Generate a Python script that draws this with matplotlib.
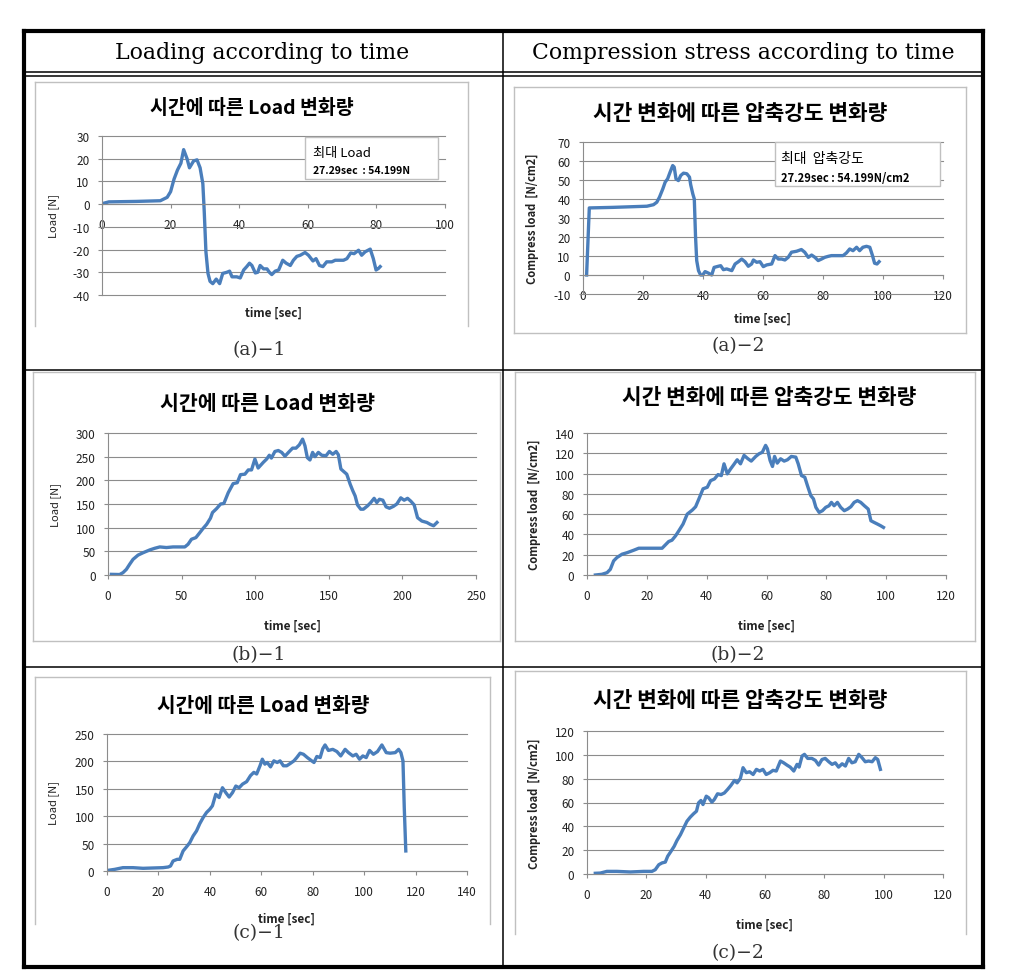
import matplotlib
matplotlib.use("Agg")
import matplotlib.pyplot as plt
from matplotlib.lines import Line2D
from matplotlib.patches import Rectangle

plt.rcParams["font.family"] = ["Noto Sans CJK KR", "DejaVu Sans"]
plt.rcParams["axes.unicode_minus"] = False

W, H = 1029, 979

# ---- data ----
a1_t = [0, 2, 10, 17, 19, 20, 21, 22, 23, 23.8, 24.8, 25.5, 26.7, 27.7, 28.6, 29.4, 29.8,
        30.3, 30.9, 31.5, 32.3, 33.3, 34.3, 35.2, 36.4, 37.2, 37.9, 39.3, 40.3, 41.3, 42.2,
        43.0, 43.7, 44.7, 45.4, 46.1, 47.1, 48.1, 48.8, 49.5, 50.5, 51.5, 52.7, 53.7, 54.9,
        55.8, 56.8, 57.8, 59.2, 60.2, 61.5, 62.4, 63.4, 64.4, 65.5, 67.0, 68.0, 68.9, 70.4,
        71.4, 72.5, 73.5, 74.8, 75.7, 76.7, 78.2, 79.1, 79.9, 80.6, 81.1]
a1_load = [0.2, 1, 1.2, 1.5, 3, 5.5, 11, 15, 18, 24, 20, 16, 19, 19.5, 16, 9, -3,
           -21, -30.5, -34, -35, -33, -35, -30.5, -30, -29.5, -32, -32, -32.5, -29, -27.5,
           -26, -27, -30.3, -30, -27, -28.5, -28.5, -30, -31, -29.5, -29, -24.7, -26, -27,
           -24.7, -23, -22.5, -21.3, -22.5, -25, -24, -27, -27.5, -25.4, -25.4, -24.7, -24.7, -24.7,
           -24, -21.5, -21.8, -20.3, -22.5, -21, -19.8, -24, -29, -28.3, -27.5]

a2_t = [1.2, 2.1, 10, 21.3, 23.5, 24.6, 25.5, 26.6, 27.4, 28.2, 29.0, 29.9, 30.4, 31.0, 31.8,
        32.6, 33.5, 34.6, 35.5, 35.9, 36.6, 37.1, 37.5, 37.9, 38.5, 39.2, 39.9, 40.7, 41.8,
        42.9, 43.7, 45.1, 45.9, 46.8, 47.9, 49.6, 50.7, 51.8, 52.9, 54.0, 55.1, 56.2, 56.8,
        57.9, 59.0, 60.1, 61.2, 62.9, 64.0, 65.1, 66.2, 67.3, 68.4, 69.5, 71.2, 72.8, 73.9,
        75.1, 76.2, 77.3, 78.4, 79.5, 80.6, 81.7, 82.8, 85.0, 86.7, 87.8, 88.9, 90.0, 91.2,
        92.2, 93.3, 94.5, 95.6, 96.5, 97.2, 98.0, 98.7]
a2_stress = [0, 35.3, 35.6, 36.2, 37, 38.3, 41, 45.3, 48.9, 50.6, 54, 57.6, 56.8, 50.6, 49.7,
             52.4, 53.6, 53.3, 51.5, 47.5, 42.7, 40, 20.7, 7.6, 2.3, 0, 0, 1.8, 1,
             0, 4, 4.6, 4.9, 2.8, 3.2, 2.3, 5.8, 7, 8.4, 7, 4.6, 5.8, 7.9,
             6.7, 7, 4.4, 5.3, 5.8, 10.2, 8.4, 8.4, 7.9, 9.3, 12, 12.5, 13.4, 12,
             9.3, 10.5, 9.3, 7.6, 8.4, 9.3, 9.8, 10.2, 10.2, 10.2, 11.6, 13.7, 12.8, 14.6,
             12.8, 14.6, 15.1, 14.6, 10.2, 6.2, 5.8, 7]

b1_t = [2.3, 7.9, 10.2, 12.5, 14.7, 17.0, 20.4, 23.8, 28.4, 31.8, 35.2, 39.7, 44.2, 52.2,
        54.4, 56.7, 59.7, 62.4, 64.7, 67.0, 69.6, 71.0, 73.7, 76.5, 78.7, 81.7, 85.0, 87.8,
        90.0, 93.0, 95.3, 97.5, 99.8, 102.0, 105.5, 107.8, 109.6, 111.0, 113.4, 115.7, 118.0,
        120.2, 123.2, 125.4, 127.7, 130.0, 132.2, 133.8, 135.4, 137.2, 139.0, 140.6, 142.9,
        145.2, 148.1, 150.4, 152.7, 155.0, 156.5, 158.2, 160.0, 162.2, 164.5, 166.3, 167.9,
        169.5, 171.7, 173.5, 176.3, 178.5, 180.8, 182.6, 184.4, 186.7, 188.9, 191.2, 193.9,
        196.2, 198.9, 201.2, 203.5, 205.7, 208.0, 210.3, 213.2, 216.6, 218.9, 221.2, 223.5]
b1_load = [1.4, 1, 5, 12, 22.6, 33, 42, 47, 53, 56.5, 59.3, 58, 59.3, 59.3,
           65, 75.5, 79, 89.6, 98.8, 107, 120, 132, 140, 150, 151, 174, 193, 195,
           212, 213, 222, 222, 245, 226, 238, 245, 253, 247, 261, 263, 259,
           251, 261, 268, 268, 275, 287, 273, 248, 243, 259, 250, 259,
           253, 252, 261, 255, 261, 254, 224, 219, 213, 192, 178, 167,
           148, 139, 139, 146, 153, 162, 153, 160, 158, 144, 141, 145,
           150, 163, 158, 162, 156, 148, 121, 114, 111, 107, 104, 111]

b2_t = [2.8, 5.0, 6.7, 7.8, 8.9, 10.0, 11.7, 13.4, 15.6, 17.3, 21.2, 25.1, 26.2, 27.3, 28.4,
        29.6, 30.7, 32.1, 33.5, 35.2, 36.3, 37.4, 38.8, 40.2, 41.3, 42.6, 43.8, 44.9, 45.8,
        46.9, 48.0, 49.1, 50.2, 51.3, 52.5, 53.8, 54.9, 56.4, 57.5, 58.6, 59.7, 60.3, 61.2,
        62.0, 62.7, 63.6, 64.7, 65.9, 67.0, 68.3, 69.8, 70.6, 71.7, 72.8, 73.7, 74.8, 75.7,
        76.5, 77.6, 78.7, 79.8, 80.9, 81.7, 82.6, 83.7, 84.8, 86.0, 87.1, 88.2, 89.3, 90.4,
        91.5, 92.7, 94.0, 94.9, 96.0, 97.1, 98.2, 99.1]
b2_stress = [0, 0.7, 2.3, 5.6, 13.9, 17.2, 20.5, 22, 24.4, 26.4, 26.4, 26.4, 29.7, 33, 34.3,
             38.6, 43.6, 50.2, 60, 64, 67.3, 75, 85, 86.5, 93, 94.7, 99, 98, 109.6,
             99.7, 104.6, 109, 113.6, 109.6, 117.9, 114.6, 112.3, 116.9, 119.5, 121, 127.8, 124.5, 112.9,
             107, 116.9, 110.3, 114.6, 112.3, 113.6, 116.9, 116.2, 109.6, 98, 96.4, 88, 78.3, 75,
             66.7, 61.7, 63.4, 66.7, 68.3, 71.6, 68.3, 71.6, 66.7, 63.4, 65, 67.3, 71.6, 73.3,
             71.6, 68.3, 65, 53.5, 51.8, 50.2, 48.5, 46.9]

c1_t = [0.4, 3.0, 6.2, 10.1, 14.0, 21.8, 23.8, 24.7, 25.7, 27.3, 28.3, 29.6, 30.9, 32.2, 33.5,
        34.8, 36.1, 37.4, 38.7, 40.0, 41.0, 42.3, 43.6, 44.9, 46.2, 47.5, 48.8, 50.1, 51.4,
        52.7, 54.3, 55.8, 57.1, 58.2, 59.5, 60.4, 61.4, 62.3, 63.6, 64.9, 66.2, 67.3, 68.6,
        69.9, 71.2, 72.7, 73.8, 75.1, 76.4, 77.9, 79.6, 80.5, 81.6, 82.9, 83.9, 84.8, 86.1,
        87.8, 89.4, 90.9, 92.6, 93.9, 95.6, 96.9, 98.2, 99.5, 100.8, 102.1, 103.6, 105.2,
        106.9, 108.6, 110.1, 112.1, 113.4, 114.3, 115.1, 115.6, 116.2]
c1_load = [1.2, 3, 6.1, 6.1, 4.9, 6.1, 7.3, 9.1, 18.3, 21.3, 21.3, 36.6, 43.9, 51.8, 64,
           73, 86.6, 97.6, 106.7, 112.8, 119, 140, 134, 152, 143, 135, 143, 155, 152,
           158.5, 163, 174, 180, 177, 192, 204, 195, 198, 190, 201, 198, 201, 192,
           192, 196, 201, 207, 215, 213, 207, 201, 198, 209, 207, 223, 230, 220,
           222, 218, 210, 222, 216, 210, 213, 204, 210, 207, 220, 213, 218,
           230, 216, 215, 216, 222, 216, 201, 116, 36.6]

c2_t = [2.8, 4.5, 6.7, 10.1, 14.6, 19.1, 21.9, 23.0, 24.2, 25.3, 26.4, 27.2, 28.3, 29.4, 30.3,
        31.5, 32.6, 33.7, 34.8, 35.9, 36.9, 37.6, 38.4, 39.1, 40.2, 41.0, 42.1, 42.9, 44.0,
        45.2, 46.3, 47.4, 48.5, 49.7, 50.6, 51.7, 52.6, 53.7, 54.8, 56.0, 57.1, 58.2, 59.3,
        60.4, 61.6, 62.7, 63.8, 65.2, 66.3, 67.4, 68.5, 69.7, 70.8, 71.5, 72.5, 73.3, 74.4,
        75.8, 77.0, 78.1, 79.2, 80.3, 81.5, 82.6, 83.7, 84.8, 86.0, 87.1, 88.2, 89.3, 90.4,
        91.6, 92.7, 93.8, 94.9, 96.1, 97.2, 98.0, 98.9]
c2_stress = [0.6, 0.8, 2.2, 2.2, 1.7, 2.2, 2.2, 3.6, 7.8, 9.3, 10, 14.9, 19, 23.3, 28,
             33, 38.7, 44.3, 47.7, 50.5, 52.7, 59.7, 61.7, 58.3, 65.3, 64, 60.3, 62.5, 67.3,
             66.7, 68, 71, 74.3, 78.5, 76.5, 80.2, 89.2, 85, 85.8, 83.5, 87.8, 86.4, 87.8,
             83.5, 85, 87, 86.4, 94.8, 93.3, 91.4, 89.7, 86.4, 92, 89.7, 99, 100.4, 97,
             97, 95.3, 91.4, 96.1, 97, 94.2, 92, 93.3, 89.7, 92.5, 90.6, 97, 93.3, 94.2,
             100.4, 97.6, 94.2, 94.8, 94.2, 97.6, 96.1, 87.8]

header_left = "Loading according to time"
header_right = "Compression stress according to time"
title_load = "시간에 따른 Load 변화량"
title_stress = "시간 변화에 따른 압축강도 변화량"
ylabel_load = "Load [N]"
ylabel_stress = "Compress load  [N/cm2]"
xlabel = "time [sec]"

BLUE = "#4a7ebb"
GRID = "#8c8c8c"
BOX = "#c0c0c0"

fig = plt.figure(figsize=(W / 100, H / 100), dpi=100)


def fx(px):
    return px / W


def fy(py):
    return 1 - py / H


def line(x0, y0, x1, y1, lw, color="black"):
    fig.add_artist(Line2D([fx(x0), fx(x1)], [fy(y0), fy(y1)], lw=lw, color=color,
                          solid_capstyle="projecting"))


def chart_box(x0, y0, x1, y1, bottom=True):
    line(x0, y1, x0, y0, 1.0, BOX)
    line(x0, y0, x1, y0, 1.0, BOX)
    line(x1, y0, x1, y1, 1.0, BOX)
    if bottom:
        line(x0, y1, x1, y1, 1.0, BOX)


def panel(box, t, y, ylim, ystep, xlim, xstep, title, tsize, title_xy, ylab, ybold,
          xlab_gap, ylab_x, zero_axis=False):
    x0, y0, x1, y1 = box
    ax = fig.add_axes([fx(x0), fy(y1), (x1 - x0) / W, (y1 - y0) / H])
    ax.plot(t, y, color=BLUE, lw=2.4, solid_joinstyle="round")
    ax.set_xlim(*xlim)
    ax.set_ylim(*ylim)
    ax.set_xticks(range(xlim[0], xlim[1] + 1, xstep))
    ax.set_yticks(range(ylim[0], ylim[1] + 1, ystep))
    ax.yaxis.grid(True, color=GRID, lw=0.8)
    for gl in ax.get_ygridlines():
        gl.set_clip_on(False)
    ax.set_axisbelow(True)
    for s in ("top", "right"):
        ax.spines[s].set_visible(False)
    for s in ("left", "bottom"):
        ax.spines[s].set_color(GRID)
        ax.spines[s].set_linewidth(0.8)
    if zero_axis:
        ax.spines["bottom"].set_position(("data", 0))
    ax.tick_params(axis="both", colors=GRID, labelcolor="#222222", labelsize=8.5,
                   length=3, width=0.8)
    ax.tick_params(axis="x", pad=7)
    ax.tick_params(axis="y", pad=6)
    ax.set_ylabel(ylab, fontsize=8, fontweight="bold" if ybold else "normal",
                  color="#222222")
    ax.yaxis.set_label_coords((ylab_x - x0) / (x1 - x0), 0.5)
    ax.set_xlabel(xlabel, fontsize=8.5, fontweight="bold", color="#222222")
    ax.xaxis.set_label_coords(0.5, -xlab_gap / (y1 - y0))
    fig.text(fx(title_xy[0]), fy(title_xy[1]), title, fontsize=tsize, fontweight="bold",
             ha="center", va="center")
    return ax


# ---- table frame ----
line(24, 32, 983, 32, 3.0)
line(24, 32, 24, 968, 3.0)
line(983, 32, 983, 968, 3.0)
line(24, 968, 983, 968, 3.0)
line(24, 73, 983, 73, 1.1)
line(24, 76.5, 983, 76.5, 1.1)
line(503, 32, 503, 968, 1.1)
line(24, 371, 983, 371, 1.1)
line(24, 668, 983, 668, 1.1)

fig.text(fx(262), fy(53), header_left, family="DejaVu Serif", fontsize=15.8,
         ha="center", va="center")
fig.text(fx(743), fy(53), header_right, family="DejaVu Serif", fontsize=15.8,
         ha="center", va="center")

# ---- chart areas ----
chart_box(35, 83, 468, 327, bottom=False)
chart_box(514, 88, 966, 334)
chart_box(33, 373, 500, 642)
chart_box(515, 373, 975, 642)
chart_box(35, 678, 490, 925, bottom=False)
chart_box(515, 672, 966, 935, bottom=False)

panel((102, 137, 445, 296), a1_t, a1_load, (-40, 30), 10, (0, 100), 20, title_load, 14,
      (252, 109), ylabel_load, False, 11, 59, zero_axis=True)
panel((583, 143, 943, 295), a2_t, a2_stress, (-10, 70), 10, (0, 120), 20, title_stress, 15.4,
      (740, 113), ylabel_stress, True, 18, 539, zero_axis=True)
panel((108, 434, 476, 576), b1_t, b1_load, (0, 300), 50, (0, 250), 50, title_load, 14.8,
      (267, 403), ylabel_load, False, 44, 61)
panel((587, 434, 946, 576), b2_t, b2_stress, (0, 140), 20, (0, 120), 20, title_stress, 15.4,
      (769, 397), ylabel_stress, True, 44, 541)
panel((107, 735, 467, 872), c1_t, c1_load, (0, 250), 50, (0, 140), 20, title_load, 14.6,
      (263, 705), ylabel_load, False, 41, 59)
panel((587, 732, 943, 875), c2_t, c2_stress, (0, 120), 20, (0, 120), 20, title_stress, 15.4,
      (740, 701), ylabel_stress, True, 44, 541)

# ---- max-value notes in (a) charts ----
fig.add_artist(Rectangle((fx(305), fy(180)), fx(438) - fx(305), fy(138) - fy(180),
                         transform=fig.transFigure, facecolor="white", edgecolor=BOX, lw=1.0))
fig.text(fx(313), fy(154), "최대 Load", fontsize=9.5, va="center")
fig.text(fx(313), fy(171), "27.29sec  : 54.199N", fontsize=7.5, fontweight="bold",
         va="center")
fig.add_artist(Rectangle((fx(775), fy(187)), fx(940) - fx(775), fy(143) - fy(187),
                         transform=fig.transFigure, facecolor="white", edgecolor=BOX, lw=1.0))
fig.text(fx(781), fy(159), "최대  압축강도", fontsize=10, va="center")
fig.text(fx(781), fy(178), "27.29sec : 54.199N/cm2", fontsize=8, fontweight="bold",
         va="center")

# ---- captions ----
captions = ["(a)−1", "(a)−2", "(b)−1", "(b)−2", "(c)−1", "(c)−2"]
cap_pos = [(259, 350), (738, 346), (259, 655), (738, 655), (259, 933), (738, 953)]
for cap, (cx, cy) in zip(captions, cap_pos):
    fig.text(fx(cx), fy(cy), cap, family="DejaVu Serif", fontsize=13.5, color="#333333",
             ha="center", va="center")

fig.savefig("out.png", dpi=100)
